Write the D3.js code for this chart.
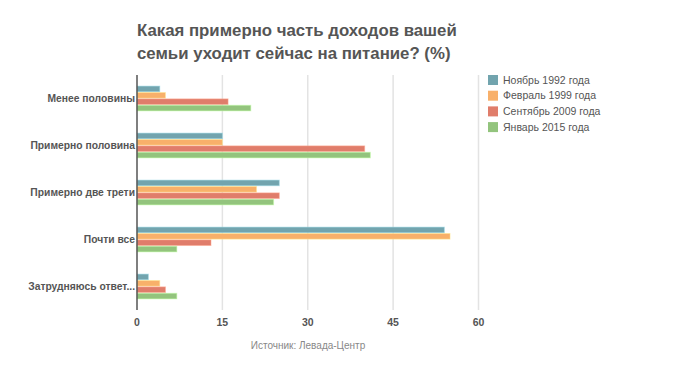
<!DOCTYPE html>
<html>
<head>
<meta charset="utf-8">
<script src="https://cdn.jsdelivr.net/npm/d3@7"></script>
<style>
  body { margin: 0; background: #fff; }
  text { font-family: 'Liberation Sans', Arial, sans-serif; }
</style>
</head>
<body>
<div id="chart"></div>
<script>
let categories = [
  'Менее половины',
  'Примерно половина',
  'Примерно две трети',
  'Почти все',
  'Затрудняюсь ответ...'
]
let seriesNames = ['Ноябрь 1992 года', 'Февраль 1999 года', 'Сентябрь 2009 года', 'Январь 2015 года']
let nov1992 = [4, 15, 25, 54, 2]
let feb1999 = [5, 15, 21, 55, 4]
let sep2009 = [16, 40, 25, 13, 5]
let jan2015 = [20, 41, 24, 7, 7]
let xTicks = [0, 15, 30, 45, 60]

let series = [nov1992, feb1999, sep2009, jan2015]
let colors = ['#72a4ae', '#f8b06a', '#e07d6b', '#93c47d']

let width = 688
let height = 367
let margin = { top: 75, left: 137, right: 210, bottom: 57 }

let svg = d3
  .select('#chart')
  .append('svg')
  .attr('width', width)
  .attr('height', height)

let x = d3.scaleLinear().domain([0, 60]).range([margin.left, width - margin.right + 0.5])

let y = d3
  .scaleBand()
  .domain(categories)
  .range([margin.top, height - margin.bottom])
  .paddingInner(0.44)
  .paddingOuter(0.22)

let ySub = d3
  .scaleBand()
  .domain(d3.range(series.length))
  .range([0, y.bandwidth()])
  .padding(0.12)

// title
svg
  .append('text')
  .attr('x', 137)
  .attr('y', 36)
  .attr('font-size', 16.8)
  .attr('font-weight', 'bold')
  .attr('fill', '#555')
  .selectAll('tspan')
  .data(['Какая примерно часть доходов вашей', 'семьи уходит сейчас на питание? (%)'])
  .enter()
  .append('tspan')
  .attr('x', 137)
  .attr('dy', (d, i) => (i === 0 ? 0 : 23))
  .text(d => d)

// gridlines
svg
  .selectAll('.grid')
  .data(xTicks.slice(1))
  .enter()
  .append('line')
  .attr('class', 'grid')
  .attr('x1', d => x(d))
  .attr('x2', d => x(d))
  .attr('y1', margin.top)
  .attr('y2', height - margin.bottom)
  .attr('stroke', '#e3e3e3')
  .attr('stroke-width', 1.5)

// bars
categories.forEach((cat, ci) => {
  series.forEach((vals, si) => {
    svg
      .append('rect')
      .attr('x', x(0))
      .attr('y', y(cat) + ySub(si))
      .attr('width', x(vals[ci]) - x(0))
      .attr('height', ySub.bandwidth())
      .attr('fill', colors[si])
      .attr('stroke', d3.color(colors[si]).brighter(0.8))
      .attr('stroke-opacity', 0.5)
      .attr('stroke-width', 1)
  })
})

// y axis line
svg
  .append('line')
  .attr('x1', x(0))
  .attr('x2', x(0))
  .attr('y1', margin.top)
  .attr('y2', height - margin.bottom)
  .attr('stroke', '#555')
  .attr('stroke-width', 1.5)

// category labels
svg
  .selectAll('.cat')
  .data(categories)
  .enter()
  .append('text')
  .attr('class', 'cat')
  .attr('x', x(0) - 2)
  .attr('y', d => y(d) + y.bandwidth() / 2)
  .attr('dy', '0.35em')
  .attr('text-anchor', 'end')
  .attr('font-size', 10.3)
  .attr('font-weight', 'bold')
  .attr('fill', '#555')
  .text(d => d)

// x tick labels
svg
  .selectAll('.tick-label')
  .data(xTicks)
  .enter()
  .append('text')
  .attr('class', 'tick-label')
  .attr('x', d => x(d))
  .attr('y', 326)
  .attr('text-anchor', 'middle')
  .attr('font-size', 10.5)
  .attr('font-weight', 'bold')
  .attr('fill', '#555')
  .text(d => d)

// source
svg
  .append('text')
  .attr('x', 308)
  .attr('y', 349)
  .attr('text-anchor', 'middle')
  .attr('font-size', 10)
  .attr('fill', '#888')
  .text('Источник: Левада-Центр')

// legend
let legend = svg.append('g').attr('transform', 'translate(488, 75)')

legend
  .selectAll('.legend-entry')
  .data(seriesNames)
  .enter()
  .append('g')
  .attr('class', 'legend-entry')
  .attr('transform', (d, i) => `translate(0,${i * 15.7})`)
  .each(function(d, i) {
    let g = d3.select(this)
    g.append('rect')
      .attr('width', 10)
      .attr('height', 10)
      .attr('fill', colors[i])
    g.append('text')
      .attr('x', 15)
      .attr('y', 5)
      .attr('dy', '0.35em')
      .attr('font-size', 10.5)
      .attr('fill', '#555')
      .text(d)
  })
</script>
</body>
</html>
